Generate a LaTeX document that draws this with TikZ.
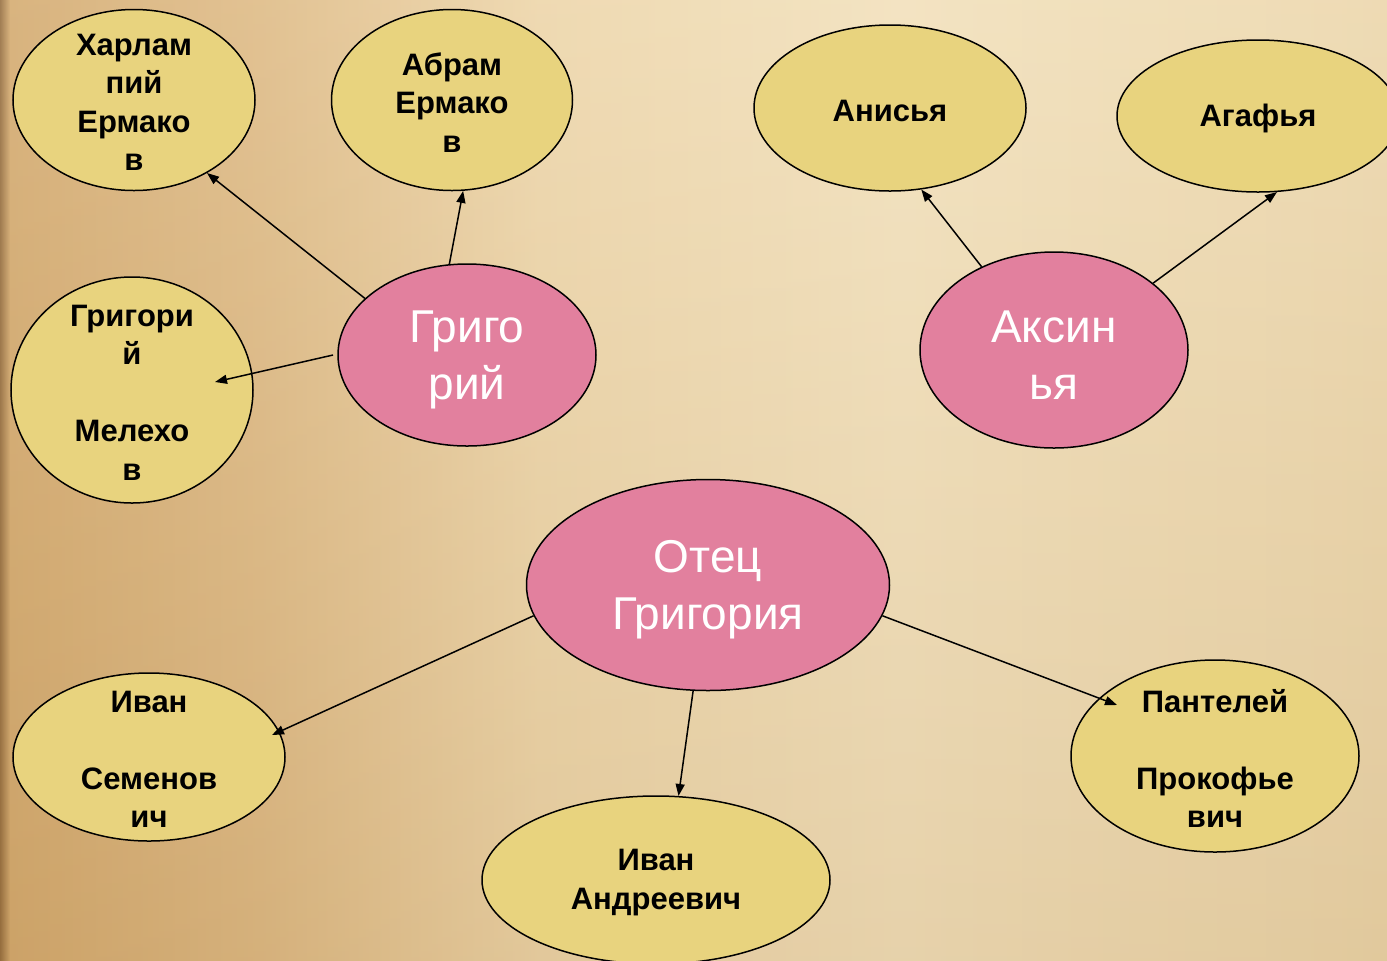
\documentclass[tikz,border=0pt]{standalone}
\usepackage{fontspec}
\setmainfont{Liberation Sans}
\usetikzlibrary{shapes.geometric,arrows.meta}
\definecolor{yfill}{RGB}{232,211,126}
\definecolor{pfill}{RGB}{226,128,158}
\definecolor{bgA}{RGB}{150,110,62}
\definecolor{bgB}{RGB}{212,170,110}
\definecolor{bgC}{RGB}{222,186,132}
\definecolor{bgD}{RGB}{237,213,168}
\definecolor{bgE}{RGB}{242,224,186}
\definecolor{bgF}{RGB}{236,214,170}
\begin{document}
\begin{tikzpicture}[x=0.5pt,y=-0.5pt,
  yel/.style={ellipse,draw=black,line width=0.75pt,fill=yfill,inner sep=0pt},
  pnk/.style={ellipse,draw=black,line width=0.75pt,fill=pfill,inner sep=0pt},
  ytext/.style={align=center,font=\fontsize{15.5pt}{19.25pt}\selectfont\bfseries,inner sep=0pt,yshift=-1.25pt},
  ptext/.style={align=center,text=white,font=\fontsize{23pt}{28.5pt}\selectfont,inner sep=0pt,yshift=-2.5pt},
  link/.style={-{Triangle[length=6pt,width=4.5pt]},line width=0.75pt}]
\useasboundingbox (0,0) rectangle (1387,960);
\clip (0,0) rectangle (1387,960);
% parchment background
\shade[left color=bgA,right color=bgB] (0,0) rectangle (10,960);
\shade[left color=bgB,right color=bgC] (10,0) rectangle (260,960);
\shade[left color=bgC,right color=bgD] (260,0) rectangle (540,960);
\shade[left color=bgD,right color=bgE] (540,0) rectangle (900,960);
\shade[left color=bgE,right color=bgF] (900,0) rectangle (1387,960);
\shade[top color=white,bottom color=bgA,opacity=0.12] (0,0) rectangle (1387,960);

% nodes
\node[yel,minimum width=121pt,minimum height=90.5pt] (harl) at (134,100) {};
\node[ytext] (harlT) at (harl.center) {Харлам\\пий\\Ермако\\в};
\node[yel,minimum width=120.5pt,minimum height=90.5pt] (abr) at (452,100) {};
\node[ytext] (abrT) at (abr.center) {Абрам\\Ермако\\в};
\node[yel,minimum width=121pt,minimum height=113pt] (mel) at (132,390) {};
\node[ytext] (melT) at (mel.center) {Григори\\й\\[19.25pt]Мелехо\\в};
\node[pnk,minimum width=129pt,minimum height=91pt] (grig) at (467,355) {};
\node[ptext] (grigT) at (grig.center) {Григо\\рий};

\node[yel,minimum width=136pt,minimum height=83pt] (anis) at (890,108) {};
\node[ytext] (anisT) at (anis.center) {Анисья};
\node[yel,minimum width=141pt,minimum height=76pt] (agaf) at (1258,116) {};
\node[ytext] (agafT) at (agaf.center) {Агафья};
\node[pnk,minimum width=134pt,minimum height=98pt] (aks) at (1054,350) {};
\node[ptext] (aksT) at (aks.center) {Аксин\\ья};

\node[pnk,minimum width=181.5pt,minimum height=105.5pt] (otec) at (708,585) {};
\node[ptext] (otecT) at (otec.center) {Отец\\Григория};
\node[yel,minimum width=136pt,minimum height=84pt] (isem) at (149,757) {};
\node[ytext] (isemT) at (isem.center) {Иван\\[19.25pt]Семенов\\ич};
\node[yel,minimum width=174pt,minimum height=84pt] (iand) at (656,880) {};
\node[ytext] (iandT) at (iand.center) {Иван\\Андреевич};
\node[yel,minimum width=144pt,minimum height=96pt] (pant) at (1215,756) {};
\node[ytext] (pantT) at (pant.center) {Пантелей\\[19.25pt]Прокофье\\вич};

% arrow ends inside nodes
\coordinate (melTip) at (215,382);
\coordinate (grigStart) at (333,355);
\coordinate (isemTip) at (272,735);
\coordinate (pantTip) at (1117,705);

% connectors
\draw[link] (grig.151) -- (harl.-45);
\draw[link] (grig.101) -- (abr.-83);
\draw[link] (grigStart) -- (melTip);
\draw[link] (aks.131) -- (anis.-69);
\draw[link] (aks.34) -- (agaf.-76);
\draw[link] (otec.190) -- (isemTip);
\draw[link] (otec.-98) -- (iand.75);
\draw[link] (otec.-10) -- (pantTip);
\end{tikzpicture}
\end{document}
